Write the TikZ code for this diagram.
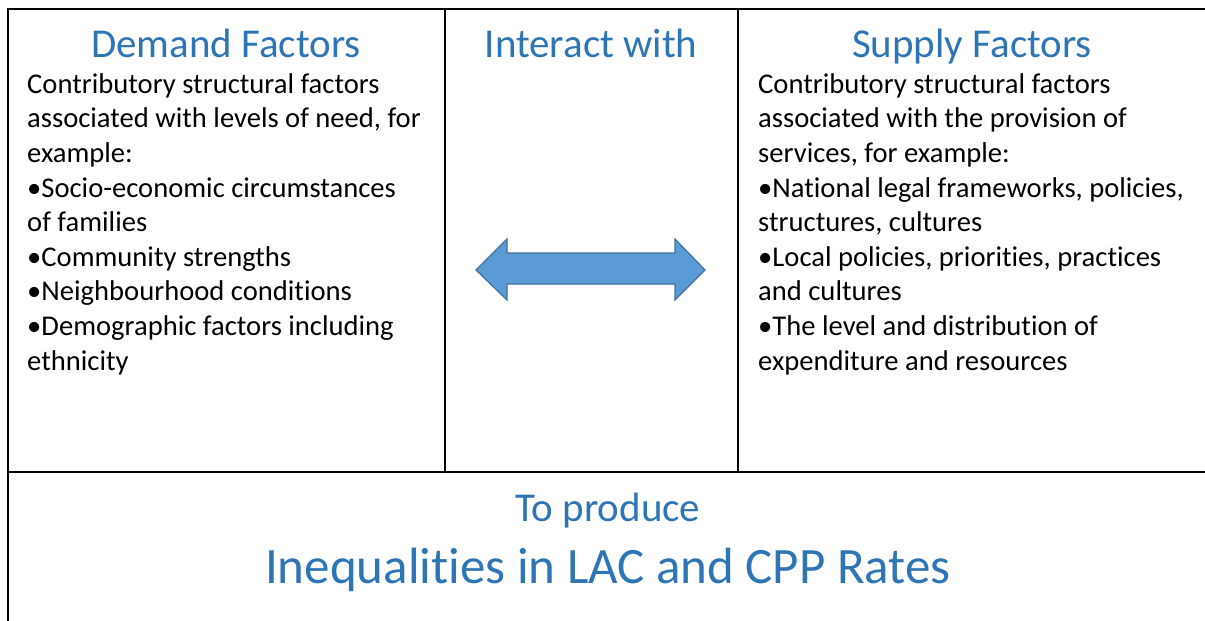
\documentclass[tikz,border=0pt]{standalone}
\usepackage{fontspec}
\setmainfont[Ligatures=NoCommon]{Carlito}
\usepackage{tikz}
\usetikzlibrary{positioning}
\definecolor{headblue}{HTML}{2E75B6}
\definecolor{arrowfill}{HTML}{5B9BD5}
\definecolor{arrowline}{HTML}{41719C}
\tikzset{
	frame/.style={line width=2.8pt,black},
	heading/.style={text=headblue,font=\fontsize{41}{48}\selectfont,inner sep=0pt,anchor=base},
	body/.style={font=\fontsize{28.6}{34.6}\selectfont,align=left,inner sep=0pt,anchor=base west},
}

\begin{document}
\begin{tikzpicture}[x=1pt,y=-1pt]
	\useasboundingbox (0,0) rectangle (1205,621);
	%
	\coordinate (tl) at (8,9);
	\coordinate (tr) at (1205,9);
	\coordinate (ml) at (8,472);
	\coordinate (mr) at (1205,472);
	\coordinate (bl) at (8,621);
	\coordinate (d1) at (445,9);
	\coordinate (d2) at (445,472);
	\coordinate (s1) at (738,9);
	\coordinate (s2) at (738,472);
	%
	\draw[frame] (tr) -- (tl) -- (bl);
	\draw[frame] (ml) -- (mr);
	\draw[frame] (d1) -- (d2);
	\draw[frame] (s1) -- (s2);
	%
	\node[heading] (demandT) at (226,57) {Demand Factors};
	\node[heading] (interactT) at (591,57) {Interact with};
	\node[heading] (supplyT) at (972,57) {Supply Factors};
	%
	% base anchor sits on the last line
	\node[body] (demandB) at (27,370) {Contributory structural factors\\
		associated with levels of need, for\\
		example:\\
		•Socio-economic circumstances\\
		of families\\
		•Community strengths\\
		•Neighbourhood conditions\\
		•Demographic factors including\\
		ethnicity};
	\node[body] (supplyB) at (758,370) {Contributory structural factors\\
		associated with the provision of\\
		services, for example:\\
		•National legal frameworks, policies,\\
		structures, cultures\\
		•Local policies, priorities, practices\\
		and cultures\\
		•The level and distribution of\\
		expenditure and resources};
	%
	\draw[fill=arrowfill,draw=arrowline,line width=1.2pt]
		(476,270) -- (507,239) -- (507,253) -- (675,253) -- (675,239) -- (705,270)
		-- (675,300) -- (675,284) -- (507,284) -- (507,300) -- cycle;
	%
	\node[heading] (produceT) at (608,521) {To produce};
	\node[heading,font=\fontsize{51}{60}\selectfont] (rates) at (608,583) {Inequalities in LAC and CPP Rates};
\end{tikzpicture}
\end{document}
